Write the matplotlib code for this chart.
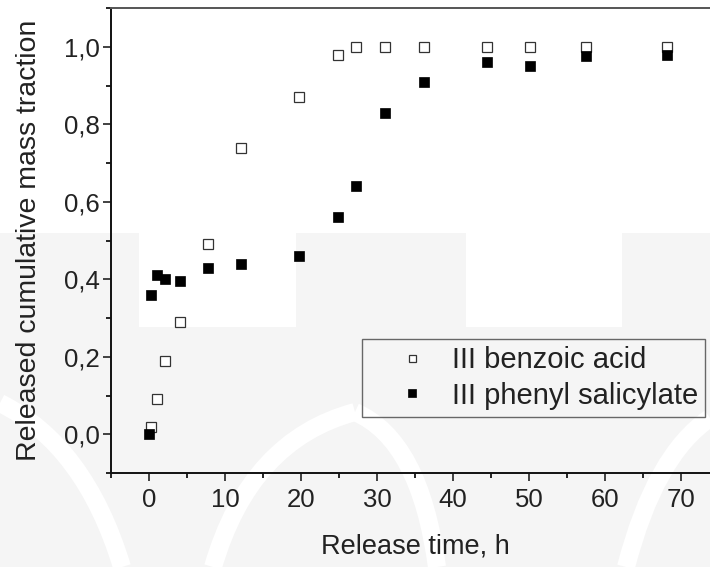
# encoding: utf-8

'''
cumulative release of benzoic acid and phenyl salicylate
'''

import matplotlib
matplotlib.use('Agg')
import matplotlib.pyplot as plt
from matplotlib.ticker import MultipleLocator, FuncFormatter
from matplotlib.patches import Rectangle, PathPatch
from matplotlib.path import Path

# release time, h
time_benzoic = [0.3, 1.0, 2.1, 4.1, 7.8, 12.1, 19.8, 24.9, 27.3, 31.0, 36.2, 44.5, 50.1, 57.5, 68.2]
frac_benzoic = [0.02, 0.09, 0.19, 0.29, 0.49, 0.74, 0.87, 0.98, 1.0, 1.0, 1.0, 1.0, 1.0, 1.0, 1.0]

time_phenyl = [0.0, 0.3, 1.0, 2.1, 4.1, 7.8, 12.1, 19.8, 24.9, 27.3, 31.0, 36.2, 44.5, 50.1, 57.5, 68.2]
frac_phenyl = [0.0, 0.36, 0.41, 0.40, 0.395, 0.43, 0.44, 0.46, 0.56, 0.64, 0.83, 0.91, 0.96, 0.95, 0.975, 0.98]

labels = ['III benzoic acid', 'III phenyl salicylate']

plt.rcParams['font.family'] = ['Liberation Sans', 'DejaVu Sans']

W, H = 710, 567
fig = plt.figure(figsize=(W / 100, H / 100), dpi=100)


def px(x, y):
    return (x / W, 1 - y / H)


# faint watermark behind the plot
grey = '#f5f5f5'
fig.add_artist(Rectangle(px(0, 567), 1, (567 - 233) / H, transform=fig.transFigure,
                         facecolor=grey, edgecolor='none', zorder=-3))
for x0, x1 in [(139, 296), (466, 622)]:
    fig.add_artist(Rectangle(px(x0, 327), (x1 - x0) / W, (327 - 233) / H,
                             transform=fig.transFigure, facecolor='white',
                             edgecolor='none', zorder=-2))
bands = [
    [(0, 403), (85, 445), (122, 567)],
    [(213, 567), (250, 440), (355, 412)],
    [(355, 412), (420, 440), (437, 567)],
    [(626, 567), (655, 455), (710, 418)],
]
for pts in bands:
    path = Path([px(*p) for p in pts], [Path.MOVETO, Path.CURVE3, Path.CURVE3])
    fig.add_artist(PathPatch(path, transform=fig.transFigure, facecolor='none',
                             edgecolor='white', lw=13, zorder=-2))

# axes box in pixels: left 111, right ~719 (cropped), top 8, bottom 473
ax = fig.add_axes([111 / W, (H - 473) / H, 608 / W, 465 / H])
ax.set_facecolor('none')

ax.plot(time_benzoic, frac_benzoic, ls='none', marker='s', ms=7.2,
        mfc='white', mec='#333333', mew=0.9, label=labels[0])
ax.plot(time_phenyl, frac_phenyl, ls='none', marker='s', ms=7.6,
        mfc='black', mec='black', mew=0.5, label=labels[1])

ax.set_xlim(-5, 75)
ax.set_ylim(-0.1, 1.1)
ax.xaxis.set_major_locator(MultipleLocator(10))
ax.xaxis.set_minor_locator(MultipleLocator(5))
ax.yaxis.set_major_locator(MultipleLocator(0.2))
ax.yaxis.set_minor_locator(MultipleLocator(0.1))
ax.yaxis.set_major_formatter(FuncFormatter(lambda v, p: '{:.1f}'.format(v).replace('.', ',')))

ax.tick_params(which='major', direction='out', length=6, width=1.2, labelsize=18.5,
               colors='#222222')
ax.tick_params(which='minor', direction='out', length=3.5, width=1.2)
ax.tick_params(axis='x', pad=5)
ax.tick_params(axis='y', pad=2)

for side in ['left', 'bottom']:
    ax.spines[side].set_linewidth(1.4)
    ax.spines[side].set_color('#111111')
ax.spines['top'].set_linewidth(1.4)
ax.spines['top'].set_color('#555555')
ax.spines['right'].set_visible(False)

ax.set_xlabel('Release time, h', fontsize=19.5, color='#222222', labelpad=15)
ax.set_ylabel('Released cumulative mass traction', fontsize=20.5, color='#222222', labelpad=16)

leg = ax.legend(loc='upper left', bbox_to_anchor=px(361.7, 339), bbox_transform=fig.transFigure,
                borderaxespad=0, fontsize=21, markerscale=0.7, frameon=True, fancybox=False,
                borderpad=0.25, labelspacing=0.25, handlelength=2.94, handletextpad=-0.1)
leg.get_frame().set_facecolor('none')
leg.get_frame().set_edgecolor('#444444')
leg.get_frame().set_linewidth(1.0)
for t in leg.get_texts():
    t.set_color('#222222')

fig.savefig('out.png', dpi=100)
